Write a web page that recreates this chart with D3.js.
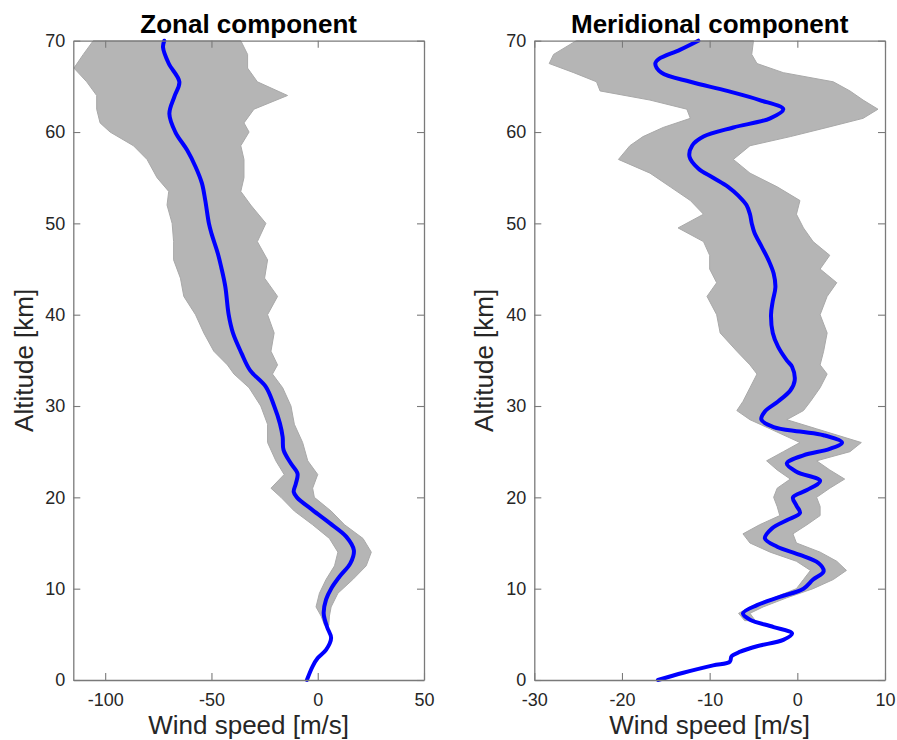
<!DOCTYPE html>
<html>
<head>
<meta charset="utf-8">
<script src="https://cdn.jsdelivr.net/npm/d3@7"></script>
<style>
  body { margin: 0; background: #fff; }
  text { font-family: "Liberation Sans", Arial, Helvetica, sans-serif; }
</style>
</head>
<body>
<div id="chart"></div>
<script>
// Mean profiles (blue) - altitude [km] / wind [m/s]
var zonalAlt = [0, 1.5, 2.4, 3.3, 4.6, 5.8, 7.3, 8.8, 10, 11.3, 12.8, 14.2, 15.7, 17.2, 18.6, 20, 20.6, 21.5, 22.6, 23.7, 25.2, 26.6, 28.1, 30, 32.1, 33.9, 35.8, 38, 40, 43.1, 45.2, 46.7, 48.9, 50, 52.5, 54.4, 56.2, 58, 60, 62, 63.9, 65.5, 67.5, 69.3, 70];
var zonalMean = [-5.1, -2.4, 0, 3.9, 6.3, 4.4, 2.8, 3.9, 6.3, 10.2, 15.4, 17.0, 13.4, 5.5, -2.4, -9.8, -11.3, -10.3, -9.5, -12.6, -16.1, -16.5, -17.8, -20.5, -24.4, -31.8, -35.9, -39.9, -41.9, -43.5, -45.4, -47.0, -50.0, -51.2, -52.9, -54.5, -57.5, -61.4, -67.0, -69.8, -67.4, -65.1, -70.1, -72.8, -72.2];

var meridAlt = [0, 0.8, 1.6, 2.0, 2.6, 3.1, 3.7, 4.4, 5.1, 5.8, 6.6, 7.3, 8.2, 9.1, 10, 11, 11.9, 12.8, 13.7, 14.6, 15.5, 16.6, 17.5, 18.3, 19.1, 20, 20.8, 21.8, 22.8, 23.7, 24.6, 25.3, 26, 26.8, 27.2, 27.7, 28.5, 29.4, 30.5, 31.7, 32.8, 34.3, 35, 36.5, 38, 40, 41.5, 43, 44.5, 46, 47.5, 49, 50, 51, 52, 53, 54, 55, 56, 57.3, 58.5, 59.5, 60.5, 61.5, 62.5, 63.5, 64.5, 65.5, 66.5, 67.5, 68, 69, 70];
var meridMean = [-15.9, -13.0, -9.6, -7.7, -7.5, -6.5, -4.6, -1.6, -0.6, -2.7, -5.4, -6.2, -4.6, -2.0, 0.7, 1.8, 3.0, 2.4, 0.3, -2.3, -3.7, -2.9, -1.2, 0.3, -0.1, -0.5, 1.1, 2.6, -0.1, -1.2, 0.7, 3.7, 5.1, 3.0, 0.3, -2.7, -4.1, -3.7, -2.2, -0.8, -0.3, -0.6, -1.2, -2.2, -2.8, -3.0, -2.8, -2.5, -2.7, -3.3, -4.1, -4.9, -5.2, -5.4, -5.8, -6.7, -7.9, -9.6, -11.3, -12.3, -12.0, -10.7, -7.3, -3.1, -1.6, -4.3, -8.0, -12.2, -15.5, -16.2, -15.8, -13.4, -11.3];

// Ensemble spread (grey) - lower / upper bounds
var zonalEnvAlt = [6, 7, 8, 9.5, 11, 12.5, 14, 15.5, 17, 18.5, 20, 21, 22.5, 24, 26, 28, 30, 32, 33.5, 34.5, 36, 38, 40, 42, 44, 46, 48, 50, 52, 53.5, 55, 57, 58.5, 60, 61, 62.5, 64, 65.5, 67, 68.5, 70];
var zonalEnvLo = [3.2, 1.6, -0.8, 0.8, 3.9, 7.9, 9.5, 5.5, -2.4, -11, -17.3, -22, -15.8, -19.7, -23.6, -23.6, -26.8, -32.3, -39.4, -42.5, -48.9, -53.6, -57.5, -63, -64.6, -67.8, -67.8, -68.5, -70.9, -70.1, -75.6, -80.3, -86.7, -97.7, -102.4, -104, -104, -108.7, -114.7, -110.3, -105.6];
var zonalEnvHi = [5.2, 5.5, 6.3, 9.5, 16.5, 22.8, 25.2, 21.3, 12.6, 6.3, -1.6, -2.4, 0, -4.7, -7.1, -11, -12.6, -16.5, -21.3, -18.9, -22, -20.5, -23.6, -18.9, -25, -23.6, -28.4, -24.4, -31.5, -36.2, -34.7, -34.7, -36.2, -32.3, -34.7, -30, -14.2, -28.4, -33, -33, -36.2];

var meridEnvAlt = [6.5, 7.3, 8, 9, 10, 11, 12, 13, 14, 15, 16, 17, 18, 19, 20, 21, 22, 23, 24, 25, 26, 27.5, 28.5, 29.5, 30.5, 32, 33.5, 34.5, 36, 38, 40, 42, 43.5, 45, 46.5, 48, 49.5, 51, 52.5, 54, 55.5, 57, 58.5, 59.5, 60.5, 61.5, 62.5, 63.5, 64.5, 65.5, 66.5, 67.5, 68.5, 70];
var meridEnvLo = [-6.0, -6.7, -5.4, -2.7, -0.1, 0.7, 1.5, -0.1, -3.1, -5.4, -6.2, -4.3, -2.0, -2.3, -2.7, -2.3, -0.8, -2.3, -3.5, -1.6, 0.3, -3.1, -5.4, -6.9, -6.2, -5.4, -4.6, -5.4, -6.9, -8.8, -9.2, -10.3, -9.2, -10.0, -10.0, -10.7, -13.6, -10.7, -12.2, -14.5, -16.8, -20.4, -19.1, -17.6, -15.3, -12.2, -12.6, -16.8, -22.5, -22.9, -25.5, -28.3, -27.8, -25.2];
var meridEnvHi = [-4.8, -5.4, -3.9, -1.2, 1.8, 4.1, 5.6, 4.5, 2.6, -0.1, -0.5, 1.1, 2.6, 2.6, 2.2, 3.7, 5.4, 3.7, 2.2, 6.0, 7.3, 2.2, -1.2, 0.7, 1.5, 2.6, 3.4, 2.6, 3.0, 3.4, 2.6, 3.4, 4.5, 2.6, 3.7, 1.8, 0.7, -0.1, 0.3, -2.3, -5.4, -7.3, -5.4, -0.8, 3.4, 7.5, 9.2, 7.5, 6.0, 4.1, -1.6, -4.6, -5.2, -5.0];

var altTicks = [0, 10, 20, 30, 40, 50, 60, 70];
var zonalTicks = [-100, -50, 0, 50];
var meridTicks = [-30, -20, -10, 0, 10];

var W = 897, H = 740;
var top0 = 40.7, bottom0 = 680;

var svg = d3.select("#chart").append("svg")
    .attr("width", W)
    .attr("height", H);

var y = d3.scaleLinear().domain([0, 70]).range([bottom0, top0]);

function zip(alt, a, b) {
  return alt.map(function(d, i) { return {alt: d, a: a[i], b: b ? b[i] : null}; });
}

function drawPanel(opts) {
  var x = d3.scaleLinear().domain(opts.domain).range(opts.range);
  var g = svg.append("g");

  // grey ensemble spread
  var area = d3.area()
      .y(function(d) { return y(d.alt); })
      .x0(function(d) { return x(d.a); })
      .x1(function(d) { return x(d.b); });
  g.append("path")
      .datum(zip(opts.envAlt, opts.envLo, opts.envHi))
      .attr("d", area)
      .attr("fill", "#b5b5b5")
      .attr("stroke", "#a9a9a9")
      .attr("stroke-width", 1);

  // blue mean
  var line = d3.line()
      .curve(d3.curveCatmullRom.alpha(0.5))
      .x(function(d) { return x(d.a); })
      .y(function(d) { return y(d.alt); });
  g.append("path")
      .datum(zip(opts.alt, opts.mean))
      .attr("d", line)
      .attr("fill", "none")
      .attr("stroke", "#0000ff")
      .attr("stroke-width", 4)
      .attr("stroke-linecap", "round");

  // axes, ticks pointing inwards
  var fmt = function(d) { return String(d); };
  var axB = g.append("g").attr("transform", "translate(0," + bottom0 + ")")
      .call(d3.axisBottom(x).tickValues(opts.ticks).tickSizeInner(-7).tickSizeOuter(0).tickPadding(13).tickFormat(fmt));
  var axT = g.append("g").attr("transform", "translate(0," + top0 + ")")
      .call(d3.axisTop(x).tickValues(opts.ticks).tickSizeInner(-7).tickSizeOuter(0).tickFormat(""));
  var axL = g.append("g").attr("transform", "translate(" + opts.range[0] + ",0)")
      .call(d3.axisLeft(y).tickValues(altTicks).tickSizeInner(-7).tickSizeOuter(0).tickPadding(8).tickFormat(fmt));
  var axR = g.append("g").attr("transform", "translate(" + opts.range[1] + ",0)")
      .call(d3.axisRight(y).tickValues(altTicks).tickSizeInner(-7).tickSizeOuter(0).tickFormat(""));

  [axB, axT, axL, axR].forEach(function(a) {
    a.select(".domain").attr("stroke", "#7a7a7a").attr("stroke-width", 1.3);
    a.selectAll(".tick line").attr("stroke", "#7a7a7a").attr("stroke-width", 1.1);
    a.selectAll(".tick text").attr("fill", "#262626").style("font-size", "18px");
  });

  var cx = (opts.range[0] + opts.range[1]) / 2;
  g.append("text")
      .attr("x", cx).attr("y", 33)
      .attr("text-anchor", "middle")
      .style("font-size", "26px").style("font-weight", "bold")
      .attr("fill", "#000")
      .text(opts.title);
  g.append("text")
      .attr("x", cx).attr("y", 734)
      .attr("text-anchor", "middle")
      .style("font-size", "26px")
      .attr("fill", "#262626")
      .text("Wind speed [m/s]");
  g.append("text")
      .attr("transform", "translate(" + opts.ylabX + "," + ((top0 + bottom0) / 2) + ") rotate(-90)")
      .attr("text-anchor", "middle")
      .style("font-size", "26px")
      .attr("fill", "#262626")
      .text("Altitude [km]");
}

drawPanel({
  title: "Zonal component",
  domain: [-115, 50], range: [73.3, 424],
  ticks: zonalTicks,
  alt: zonalAlt, mean: zonalMean,
  envAlt: zonalEnvAlt, envLo: zonalEnvLo, envHi: zonalEnvHi,
  ylabX: 33
});

drawPanel({
  title: "Meridional component",
  domain: [-30, 10], range: [534.3, 885],
  ticks: meridTicks,
  alt: meridAlt, mean: meridMean,
  envAlt: meridEnvAlt, envLo: meridEnvLo, envHi: meridEnvHi,
  ylabX: 493
});
</script>
</body>
</html>
